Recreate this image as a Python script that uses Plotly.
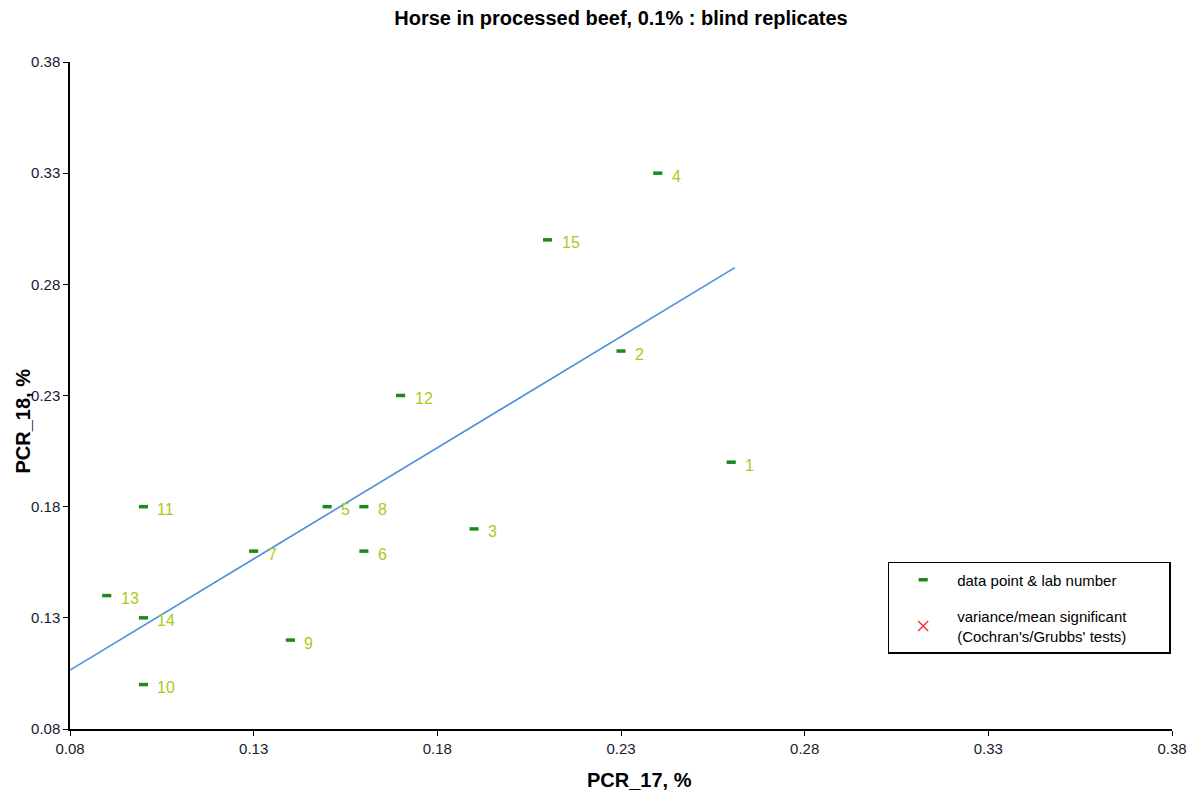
import plotly.graph_objects as go

labs = ["1", "2", "3", "4", "5", "6", "7", "8", "9", "10", "11", "12", "13", "14", "15"]
pcr17 = [0.26, 0.23, 0.19, 0.24, 0.15, 0.16, 0.13, 0.16, 0.14, 0.10, 0.10, 0.17, 0.09, 0.10, 0.21]
pcr18 = [0.20, 0.25, 0.17, 0.33, 0.18, 0.16, 0.16, 0.18, 0.12, 0.10, 0.18, 0.23, 0.14, 0.13, 0.30]

fit_x = [0.08, 0.261]
fit_y = [0.1065, 0.2875]

ticks = [0.08, 0.13, 0.18, 0.23, 0.28, 0.33, 0.38]
tick_text = ["0.08", "0.13", "0.18", "0.23", "0.28", "0.33", "0.38"]

FONT = "Liberation Sans, Arial, sans-serif"
PAD = "\u00a0" * 9

fig = go.Figure()

fig.add_trace(go.Scatter(
    x=fit_x, y=fit_y, mode="lines",
    line=dict(color="#4a90dc", width=1.6),
    showlegend=False, hoverinfo="skip",
))

fig.add_trace(go.Scatter(
    x=pcr17, y=pcr18, mode="markers",
    marker=dict(symbol="line-ew", size=6.5, line=dict(color="#1a8a1a", width=3.5)),
    name="data point & lab number", legendgroup="a",
))

for x, y, t in zip(pcr17, pcr18, labs):
    fig.add_annotation(
        x=x, y=y, text=t, showarrow=False, xanchor="left", yanchor="middle",
        xshift=12, yshift=-3,
        font=dict(family=FONT, size=16, color="#a6cc1a"),
    )

fig.add_trace(go.Scatter(
    x=[None], y=[None], mode="markers",
    marker=dict(symbol="x-thin", size=10, line=dict(color="#ff3333", width=1.5)),
    name="variance/mean significant<br>(Cochran's/Grubbs' tests)" + PAD, legendgroup="b",
))

# axis titles as annotations (positioned like the reference)
fig.add_annotation(x=0.5, y=0, xref="paper", yref="paper", xanchor="center", yanchor="middle",
                   yshift=-51, xshift=18, showarrow=False,
                   text="<b>PCR_17, %</b>", font=dict(family=FONT, size=20, color="black"))
fig.add_annotation(x=0, y=0.5, xref="paper", yref="paper", xanchor="center", yanchor="middle",
                   xshift=-48, yshift=-26, showarrow=False, textangle=-90,
                   text="<b>PCR_18, %</b>", font=dict(family=FONT, size=20, color="black"))

fig.update_layout(
    width=1197, height=794,
    paper_bgcolor="white", plot_bgcolor="white",
    margin=dict(l=62, r=33, t=54, b=73),
    title=dict(text="<b>Horse in processed beef, 0.1% : blind replicates</b>",
               x=0.5, xref="paper", xanchor="center", y=0.987, yanchor="middle",
               font=dict(family=FONT, size=20, color="black")),
    font=dict(family=FONT, size=14, color="black"),
    legend=dict(x=0.742, y=0.2504, xanchor="left", yanchor="top",
                bordercolor="black", borderwidth=1.5, bgcolor="white",
                font=dict(family=FONT, size=15, color="black"),
                traceorder="grouped", tracegroupgap=14, itemwidth=58),
    showlegend=True,
)

fig.update_xaxes(
    range=[0.08, 0.38], tickvals=ticks, ticktext=tick_text,
    showgrid=False, zeroline=False, showline=True, linecolor="black", linewidth=1.5,
    ticks="outside", ticklen=5, tickcolor="black",
    tickfont=dict(family=FONT, size=15, color="#1a1a2e"),
)
fig.update_yaxes(
    range=[0.08, 0.38], tickvals=ticks, ticktext=tick_text,
    showgrid=False, zeroline=False, showline=True, linecolor="black", linewidth=1.5,
    ticks="outside", ticklen=5, tickcolor="black",
    tickfont=dict(family=FONT, size=15, color="#1a1a2e"),
)

fig.write_html("out.html")
